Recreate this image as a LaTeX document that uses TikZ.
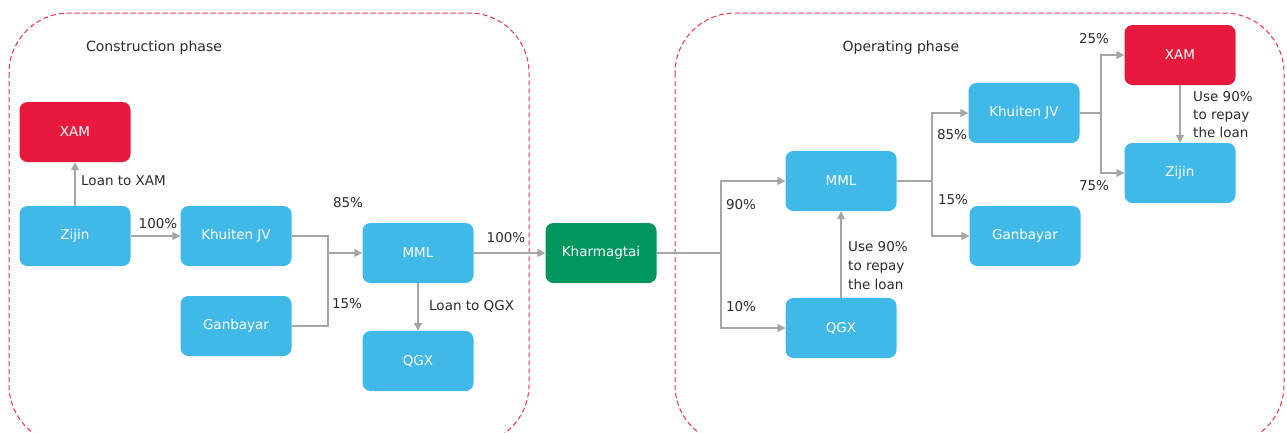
\documentclass[tikz,border=0pt]{standalone}
\usepackage{fontspec}
\setmainfont{DejaVu Sans}
\usetikzlibrary{arrows.meta}
\definecolor{boxblue}{HTML}{41B9E8}
\definecolor{boxred}{HTML}{E8193C}
\definecolor{boxgreen}{HTML}{00965E}
\definecolor{linegray}{HTML}{A6A6A6}
\definecolor{dashred}{HTML}{E8354F}
\definecolor{txt}{HTML}{2B2B2B}
\tikzset{
  ent/.style={rounded corners=8pt, minimum width=111pt, minimum height=60pt, inner sep=0pt, text=white, font=\fontsize{13.5}{15}\selectfont},
  bluebox/.style={ent, fill=boxblue},
  redbox/.style={ent, fill=boxred},
  greenbox/.style={ent, fill=boxgreen},
  conn/.style={draw=linegray, line width=1.5pt},
  arr/.style={conn, -{Triangle[length=8pt,width=8pt]}},
  lbl/.style={text=txt, font=\fontsize{13.5}{16}\selectfont, inner sep=0pt},
  phase/.style={draw=dashred, line width=1pt, dash pattern=on 5pt off 3pt, rounded corners=60pt},
  ttl/.style={text=txt, font=\fontsize{14}{15}\selectfont, inner sep=0pt}
}
\begin{document}
\begin{tikzpicture}[x=1pt,y=-1pt]
\useasboundingbox (0,0) rectangle (1287,432);
\begin{scope}
\clip (0,0) rectangle (1287,432);
\draw[phase] (9,13) rectangle (529,445);
\draw[phase] (675,13) rectangle (1284,445);
\end{scope}
\node[ttl] (t1) at (154,48) {Construction phase};
\node[ttl] (t2) at (901,48) {Operating phase};

% left
\node[redbox] (xamL) at (75,132) {XAM};
\node[bluebox] (zijL) at (75,236) {Zijin};
\node[bluebox] (khuL) at (236,236) {Khuiten JV};
\node[bluebox] (ganL) at (236,326) {Ganbayar};
\node[bluebox] (mmlL) at (418,253) {MML};
\node[bluebox] (qgxL) at (418,361) {QGX};
\node[greenbox] (kha) at (601,253) {Kharmagtai};

% right
\node[bluebox] (mmlR) at (841,181) {MML};
\node[bluebox] (qgxR) at (841,328) {QGX};
\node[bluebox] (khuR) at (1024,113) {Khuiten JV};
\node[bluebox] (ganR) at (1025,236) {Ganbayar};
\node[redbox] (xamR) at (1180,55) {XAM};
\node[bluebox] (zijR) at (1180,173) {Zijin};

\coordinate (jL) at (328,253);
\coordinate (jK) at (721,253);
\coordinate (jM) at (932,181);
\coordinate (jX) at (1101,113);

% left connectors
\draw[arr] (zijL) -- (xamL);
\node[lbl, anchor=west] (l1) at (81,181) {Loan to XAM};
\draw[arr] (zijL) -- (khuL);
\node[lbl] (l2) at (158,224) {100\%};
\draw[conn] (khuL.east) -| (jL);
\draw[conn] (ganL.east) -| (jL);
\draw[arr] (jL) -- (mmlL);
\node[lbl] (l3) at (348,203) {85\%};
\node[lbl] (l4) at (347,304) {15\%};
\draw[arr] (mmlL) -- (qgxL);
\node[lbl, anchor=west] (l5) at (429,306) {Loan to QGX};
\draw[arr] (mmlL) -- (kha);
\node[lbl] (l6) at (506,238) {100\%};

% right connectors
\draw[conn] (kha) -- (jK);
\draw[arr] (jK) |- (mmlR.west);
\draw[arr] (jK) |- (qgxR.west);
\node[lbl] (l7) at (741,205) {90\%};
\node[lbl] (l8) at (741,307) {10\%};
\draw[conn] (mmlR) -- (jM);
\draw[arr] (jM) |- (khuR.west);
\draw[arr] (jM) |- (ganR.west);
\node[lbl] (l9) at (952,135) {85\%};
\node[lbl] (l10) at (953,200) {15\%};
\draw[arr] (qgxR) -- (mmlR);
\node[lbl, anchor=north west, align=left, font=\fontsize{13.5}{19}\selectfont] (l11) at (848,241) {Use 90\%\\to repay\\the loan};
\draw[conn] (khuR) -- (jX);
\draw[arr] (jX) |- (xamR.west);
\draw[arr] (jX) |- (zijR.west);
\node[lbl] (l12) at (1094,39) {25\%};
\node[lbl] (l13) at (1094,186) {75\%};
\draw[arr] (xamR) -- (zijR);
\node[lbl, anchor=north west, align=left, font=\fontsize{13.5}{18}\selectfont] (l14) at (1193,91) {Use 90\%\\to repay\\the loan};
\end{tikzpicture}
\end{document}
